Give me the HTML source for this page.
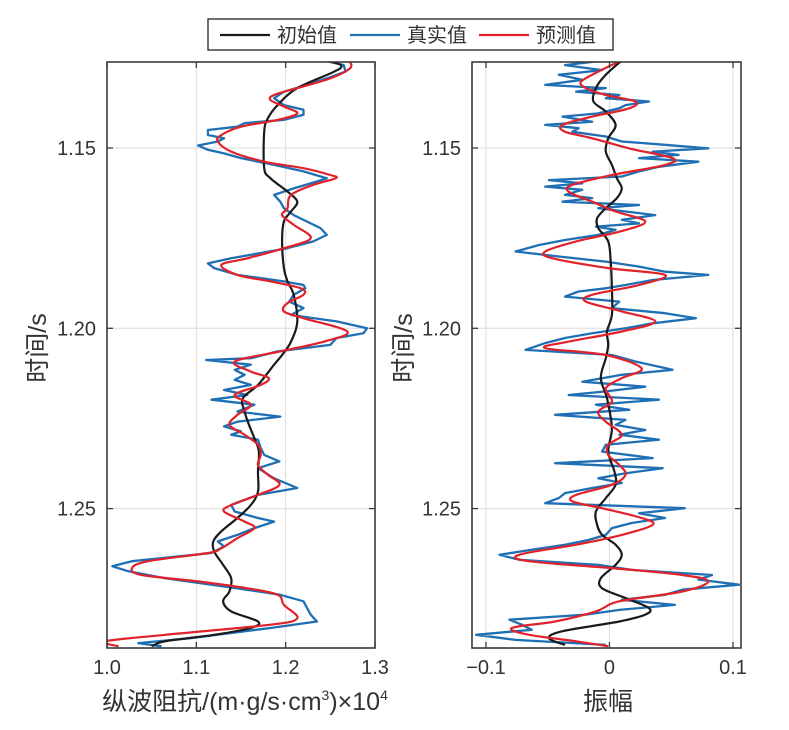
<!DOCTYPE html>
<html><head><meta charset="utf-8">
<style>
html,body{margin:0;padding:0;background:#fff;}
svg{display:block;font-family:"Liberation Sans","Noto Sans CJK SC",sans-serif;}
</style></head>
<body>
<svg id="chart" width="789" height="730" viewBox="0 0 789 730" xmlns="http://www.w3.org/2000/svg">
<defs>
<clipPath id="clipL"><rect x="107" y="62" width="268" height="586"/></clipPath>
<clipPath id="clipR"><rect x="472" y="62" width="269" height="586"/></clipPath>
</defs>
<g id="legend">
<rect x="208" y="19" width="405" height="31" fill="#fff" stroke="#222" stroke-width="1.3"/>
<g><line x1="220" y1="35" x2="270" y2="35" stroke="#1a1a1a" stroke-width="2.2"/><text x="277" y="42" font-size="20" fill="#333">初始值</text></g>
<g><line x1="350" y1="35" x2="400" y2="35" stroke="#1f6fb4" stroke-width="2.2"/><text x="407" y="42" font-size="20" fill="#333">真实值</text></g>
<g><line x1="479" y1="35" x2="529" y2="35" stroke="#e0232b" stroke-width="2.2"/><text x="536" y="42" font-size="20" fill="#333">预测值</text></g>
</g>
<g id="left"></g>
<g id="right"></g>
<text x="245" y="710" font-size="25" text-anchor="middle" fill="#333">纵波阻抗/(m·g/s·cm<tspan font-size="14" dy="-10">3</tspan><tspan dy="10">)×10</tspan><tspan font-size="14" dy="-10">4</tspan></text>
<text x="608" y="710" font-size="25" text-anchor="middle" fill="#333">振幅</text>
<text transform="translate(46,348) rotate(-90)" font-size="25" text-anchor="middle" fill="#333">时间/s</text>
<text transform="translate(412,348) rotate(-90)" font-size="25" text-anchor="middle" fill="#333">时间/s</text>
</svg>
<script>
const yTicks=[1.15,1.20,1.25];
const yTickLabels=["1.15","1.20","1.25"];
const leftXTicks=[1.0,1.1,1.2,1.3];
const leftXTickLabels=["1.0","1.1","1.2","1.3"];
const rightXTicks=[-0.1,0,0.1];
const rightXTickLabels=["\u22120.1","0","0.1"];

const leftInitT=[1.1260,1.1279,1.1334,1.1381,1.1418,1.1455,1.1556,1.1584,1.1621,1.1649,1.1676,1.1704,1.1759,1.1833,1.1870,1.1907,1.1981,1.2037,1.2074,1.2101,1.2157,1.2194,1.2231,1.2268,1.2305,1.2342,1.2397,1.2453,1.2490,1.2526,1.2563,1.2591,1.2619,1.2656,1.2693,1.2730,1.2757,1.2785,1.2813,1.2831,1.2850,1.2868,1.2882];
const leftInitV=[1.250,1.261,1.213,1.191,1.180,1.176,1.176,1.183,1.202,1.213,1.206,1.198,1.196,1.198,1.202,1.209,1.213,1.206,1.196,1.187,1.169,1.152,1.154,1.159,1.165,1.170,1.169,1.169,1.161,1.146,1.128,1.119,1.120,1.130,1.139,1.137,1.130,1.139,1.169,1.161,1.120,1.065,1.050];
const leftPredT=[1.1260,1.1279,1.1307,1.1334,1.1353,1.1367,1.1385,1.1404,1.1422,1.1441,1.1464,1.1482,1.1510,1.1538,1.1556,1.1575,1.1584,1.1602,1.1630,1.1667,1.1686,1.1713,1.1750,1.1778,1.1806,1.1824,1.1852,1.1870,1.1889,1.1907,1.1930,1.1953,1.1972,1.2009,1.2037,1.2064,1.2092,1.2120,1.2138,1.2157,1.2185,1.2212,1.2240,1.2268,1.2295,1.2323,1.2351,1.2379,1.2406,1.2434,1.2462,1.2490,1.2508,1.2536,1.2554,1.2582,1.2610,1.2623,1.2646,1.2665,1.2684,1.2702,1.2721,1.2739,1.2767,1.2804,1.2822,1.2850,1.2868,1.2882];
const leftPredV=[1.272,1.272,1.250,1.213,1.187,1.183,1.198,1.213,1.191,1.150,1.128,1.124,1.139,1.176,1.220,1.250,1.256,1.231,1.206,1.202,1.196,1.209,1.228,1.198,1.157,1.128,1.146,1.183,1.217,1.220,1.202,1.198,1.220,1.269,1.243,1.194,1.143,1.161,1.181,1.172,1.143,1.161,1.146,1.137,1.154,1.169,1.172,1.169,1.180,1.193,1.169,1.139,1.131,1.154,1.165,1.146,1.128,1.113,1.046,1.028,1.039,1.102,1.157,1.191,1.198,1.213,1.183,1.065,0.998,1.013];
const leftTrueT=[1.1259,1.1270,1.1288,1.1307,1.1325,1.1344,1.1362,1.1381,1.1394,1.1408,1.1422,1.1431,1.1441,1.1450,1.1464,1.1473,1.1482,1.1493,1.1505,1.1515,1.1528,1.1547,1.1565,1.1584,1.1593,1.1612,1.1630,1.1649,1.1667,1.1686,1.1704,1.1722,1.1741,1.1759,1.1778,1.1806,1.1820,1.1833,1.1852,1.1870,1.1880,1.1889,1.1907,1.1926,1.1944,1.1963,1.1981,1.2000,1.2014,1.2027,1.2046,1.2064,1.2083,1.2088,1.2101,1.2115,1.2129,1.2143,1.2157,1.2171,1.2185,1.2198,1.2212,1.2231,1.2245,1.2259,1.2272,1.2286,1.2295,1.2309,1.2332,1.2351,1.2369,1.2388,1.2416,1.2443,1.2462,1.2490,1.2508,1.2526,1.2536,1.2554,1.2573,1.2591,1.2605,1.2623,1.2646,1.2660,1.2674,1.2693,1.2721,1.2739,1.2757,1.2776,1.2794,1.2813,1.2831,1.2859,1.2873,1.2882];
const leftTrueV=[1.246,1.265,1.267,1.246,1.224,1.198,1.187,1.198,1.220,1.220,1.198,1.154,1.146,1.113,1.113,1.131,1.124,1.102,1.113,1.131,1.150,1.187,1.220,1.246,1.235,1.209,1.187,1.194,1.198,1.209,1.224,1.239,1.246,1.231,1.202,1.139,1.113,1.120,1.146,1.198,1.220,1.222,1.209,1.204,1.220,1.206,1.257,1.291,1.287,1.257,1.250,1.191,1.161,1.111,1.161,1.143,1.154,1.143,1.161,1.131,1.157,1.117,1.165,1.146,1.194,1.146,1.131,1.150,1.139,1.169,1.172,1.176,1.193,1.169,1.187,1.213,1.169,1.139,1.143,1.169,1.187,1.165,1.146,1.124,1.131,1.117,1.028,1.006,1.024,1.065,1.146,1.194,1.220,1.224,1.228,1.235,1.183,1.094,1.035,1.061];

const rightInitT=[1.1260,1.1297,1.1334,1.1371,1.1399,1.1436,1.1473,1.1510,1.1547,1.1584,1.1612,1.1639,1.1667,1.1695,1.1722,1.1759,1.1815,1.1889,1.1963,1.2009,1.2046,1.2083,1.2138,1.2194,1.2277,1.2342,1.2397,1.2434,1.2471,1.2508,1.2545,1.2573,1.2600,1.2628,1.2656,1.2693,1.2721,1.2748,1.2776,1.2794,1.2813,1.2840,1.2859,1.2878];
const rightInitV=[0.009,-0.003,-0.011,-0.013,-0.003,0.005,-0.001,-0.003,0.002,0.006,0.010,0.006,-0.003,-0.010,-0.009,-0.001,0.001,0.002,0.002,-0.002,-0.001,-0.003,-0.007,-0.002,0.002,-0.001,0.004,0.005,-0.003,-0.011,-0.010,-0.006,0.005,0.010,0.005,-0.007,-0.006,0.013,0.032,0.029,0.008,-0.038,-0.049,-0.036];
const rightPredT=[1.1260,1.1288,1.1316,1.1334,1.1353,1.1371,1.1390,1.1413,1.1436,1.1455,1.1473,1.1501,1.1528,1.1547,1.1575,1.1602,1.1621,1.1649,1.1676,1.1704,1.1732,1.1759,1.1787,1.1806,1.1833,1.1852,1.1880,1.1907,1.1926,1.1953,1.1981,1.2009,1.2037,1.2055,1.2074,1.2111,1.2138,1.2166,1.2203,1.2231,1.2259,1.2295,1.2323,1.2351,1.2379,1.2406,1.2434,1.2462,1.2480,1.2499,1.2526,1.2545,1.2573,1.2600,1.2628,1.2646,1.2665,1.2684,1.2702,1.2730,1.2757,1.2785,1.2813,1.2831,1.2850,1.2868,1.2882];
const rightPredV=[0.008,-0.009,-0.023,-0.019,-0.003,0.021,0.016,-0.014,-0.038,-0.036,-0.014,0.016,0.051,0.045,0.002,-0.030,-0.033,-0.014,0.005,0.029,0.008,-0.027,-0.052,-0.046,-0.001,0.045,0.024,-0.014,-0.019,0.010,0.037,0.010,-0.033,-0.052,-0.003,0.026,0.010,-0.003,0.002,-0.009,-0.003,0.010,-0.001,-0.001,0.008,0.013,0.002,-0.027,-0.030,-0.006,0.026,0.035,0.010,-0.027,-0.073,-0.065,0.002,0.059,0.080,0.059,0.008,-0.011,-0.044,-0.079,-0.065,-0.027,-0.001];
const rightTrueT=[1.1256,1.1270,1.1284,1.1297,1.1311,1.1325,1.1334,1.1344,1.1353,1.1362,1.1371,1.1381,1.1390,1.1404,1.1413,1.1427,1.1436,1.1445,1.1455,1.1468,1.1482,1.1491,1.1501,1.1510,1.1519,1.1528,1.1538,1.1552,1.1565,1.1579,1.1589,1.1598,1.1607,1.1616,1.1630,1.1639,1.1649,1.1658,1.1667,1.1676,1.1686,1.1699,1.1709,1.1718,1.1727,1.1741,1.1755,1.1769,1.1787,1.1801,1.1815,1.1829,1.1843,1.1852,1.1866,1.1880,1.1889,1.1898,1.1912,1.1926,1.1944,1.1958,1.1972,1.1986,1.2000,1.2014,1.2027,1.2041,1.2060,1.2074,1.2092,1.2115,1.2129,1.2148,1.2162,1.2175,1.2185,1.2198,1.2212,1.2226,1.2240,1.2254,1.2268,1.2282,1.2295,1.2309,1.2323,1.2342,1.2360,1.2374,1.2388,1.2402,1.2416,1.2429,1.2443,1.2457,1.2471,1.2485,1.2499,1.2513,1.2526,1.2540,1.2554,1.2573,1.2587,1.2600,1.2614,1.2628,1.2642,1.2656,1.2670,1.2684,1.2697,1.2711,1.2725,1.2739,1.2753,1.2767,1.2781,1.2794,1.2808,1.2822,1.2836,1.2850,1.2864,1.2878];
const rightTrueV=[-0.001,-0.036,-0.006,-0.041,-0.022,-0.052,-0.003,-0.027,0.008,-0.003,0.032,0.013,0.008,-0.009,-0.038,-0.014,-0.052,-0.025,-0.030,-0.003,0.010,0.045,0.080,0.035,0.056,0.024,0.072,0.040,0.024,0.010,-0.049,-0.022,-0.052,-0.022,-0.036,-0.014,-0.038,0.024,-0.009,0.013,0.037,0.010,0.024,-0.011,0.005,-0.009,-0.036,-0.057,-0.076,-0.041,-0.003,0.024,0.045,0.080,0.035,0.013,-0.003,-0.025,-0.036,0.008,0.002,0.045,0.070,0.035,0.013,-0.014,-0.036,-0.052,-0.068,0.002,0.021,0.051,0.010,-0.022,0.029,-0.003,-0.033,0.040,-0.011,0.016,-0.044,0.013,0.005,0.029,0.008,0.040,-0.003,-0.006,0.035,-0.044,0.043,0.013,-0.009,0.010,-0.014,-0.036,-0.041,-0.052,0.061,0.024,0.045,0.018,0.002,-0.003,-0.017,-0.036,-0.063,-0.089,-0.073,-0.009,0.018,0.083,0.072,0.105,0.059,0.045,0.010,0.053,0.008,-0.019,-0.081,-0.071,-0.063,-0.108,-0.076,-0.003];

const NS="http://www.w3.org/2000/svg";
const TOP=62,BOT=648,T0=1.15,PXT=3606,Y0=148;
function yScale(t){return Y0+(t-T0)*PXT;}
function mk(tag,attrs,parent){const e=document.createElementNS(NS,tag);for(const k in attrs)e.setAttribute(k,attrs[k]);parent.appendChild(e);return e;}
function pathFor(pts,smooth){
  let d='M'+pts[0][0].toFixed(1)+' '+pts[0][1].toFixed(1);
  for(let i=0;i<pts.length-1;i++){
    const p0=pts[Math.max(0,i-1)],p1=pts[i],p2=pts[i+1],p3=pts[Math.min(pts.length-1,i+2)];
    if(smooth){
      const c1=[p1[0]+(p2[0]-p0[0])/6,p1[1]+(p2[1]-p0[1])/6];
      const c2=[p2[0]-(p3[0]-p1[0])/6,p2[1]-(p3[1]-p1[1])/6];
      d+='C'+c1[0].toFixed(1)+' '+c1[1].toFixed(1)+' '+c2[0].toFixed(1)+' '+c2[1].toFixed(1)+' '+p2[0].toFixed(1)+' '+p2[1].toFixed(1);
    } else d+='L'+p2[0].toFixed(1)+' '+p2[1].toFixed(1);
  }
  return d;
}
function drawPanel(g,x0,x1,dmin,dmax,xt,xtl,clip,series,name){
  const xs=v=>x0+(v-dmin)/(dmax-dmin)*(x1-x0);
  xt.forEach((v,i)=>{const x=xs(v);if(x>x0+2&&x<x1-2){const l=mk('line',{x1:x,y1:TOP,x2:x,y2:BOT,stroke:'#dcdcdc','stroke-width':1},g);
    
    }});
  yTicks.forEach(t=>{const y=yScale(t);const l=mk('line',{x1:x0,y1:y,x2:x1,y2:y,stroke:'#dcdcdc','stroke-width':1},g);
    
    });
  series.forEach(s=>{
    const pts=s.t.map((t,i)=>[xs(s.v[i]),yScale(t)]);
    const p=mk('path',{d:pathFor(pts,s.s),fill:'none',stroke:s.c,'stroke-width':s.w,'stroke-linejoin':'round','clip-path':'url(#'+clip+')'},g);
    
    
  });
  const b=mk('rect',{x:x0,y:TOP,width:x1-x0,height:BOT-TOP,fill:'none',stroke:'#3a3a3a','stroke-width':1.6},g);
  
  
  xt.forEach((v,i)=>{const x=xs(v);
    mk('line',{x1:x,y1:BOT,x2:x,y2:BOT-6,stroke:'#3a3a3a','stroke-width':1.3},g);
    mk('line',{x1:x,y1:TOP,x2:x,y2:TOP+6,stroke:'#3a3a3a','stroke-width':1.3},g);
    const tx=mk('text',{x:x,y:BOT+26,'font-size':20,'text-anchor':'middle',fill:'#333'},g);tx.textContent=xtl[i];
    
    });
  yTicks.forEach((t,i)=>{const y=yScale(t);
    mk('line',{x1:x0,y1:y,x2:x0+6,y2:y,stroke:'#3a3a3a','stroke-width':1.3},g);
    mk('line',{x1:x1,y1:y,x2:x1-6,y2:y,stroke:'#3a3a3a','stroke-width':1.3},g);
    const tx=mk('text',{x:x0-11,y:y+7,'font-size':20,'text-anchor':'end',fill:'#333'},g);tx.textContent=yTickLabels[i];
    
    });
}
const gl=document.getElementById('left');


drawPanel(gl,107,375,1.0,1.3,leftXTicks,leftXTickLabels,'clipL',[
 {t:leftTrueT,v:leftTrueV,c:'#1f6fb4',w:2.3,s:false,n:'impedance-true-line'},
 {t:leftInitT,v:leftInitV,c:'#1a1a1a',w:2.2,s:true,n:'impedance-initial-line'},
 {t:leftPredT,v:leftPredV,c:'#e0232b',w:2.2,s:true,n:'impedance-predicted-line'}],'impedance');
const gr=document.getElementById('right');


drawPanel(gr,472,741,-0.1113,0.1065,rightXTicks,rightXTickLabels,'clipR',[
 {t:rightTrueT,v:rightTrueV,c:'#1f6fb4',w:2.3,s:false,n:'amplitude-true-line'},
 {t:rightInitT,v:rightInitV,c:'#1a1a1a',w:2.2,s:true,n:'amplitude-initial-line'},
 {t:rightPredT,v:rightPredV,c:'#e0232b',w:2.2,s:true,n:'amplitude-predicted-line'}],'amplitude');
</script>
</body></html>
